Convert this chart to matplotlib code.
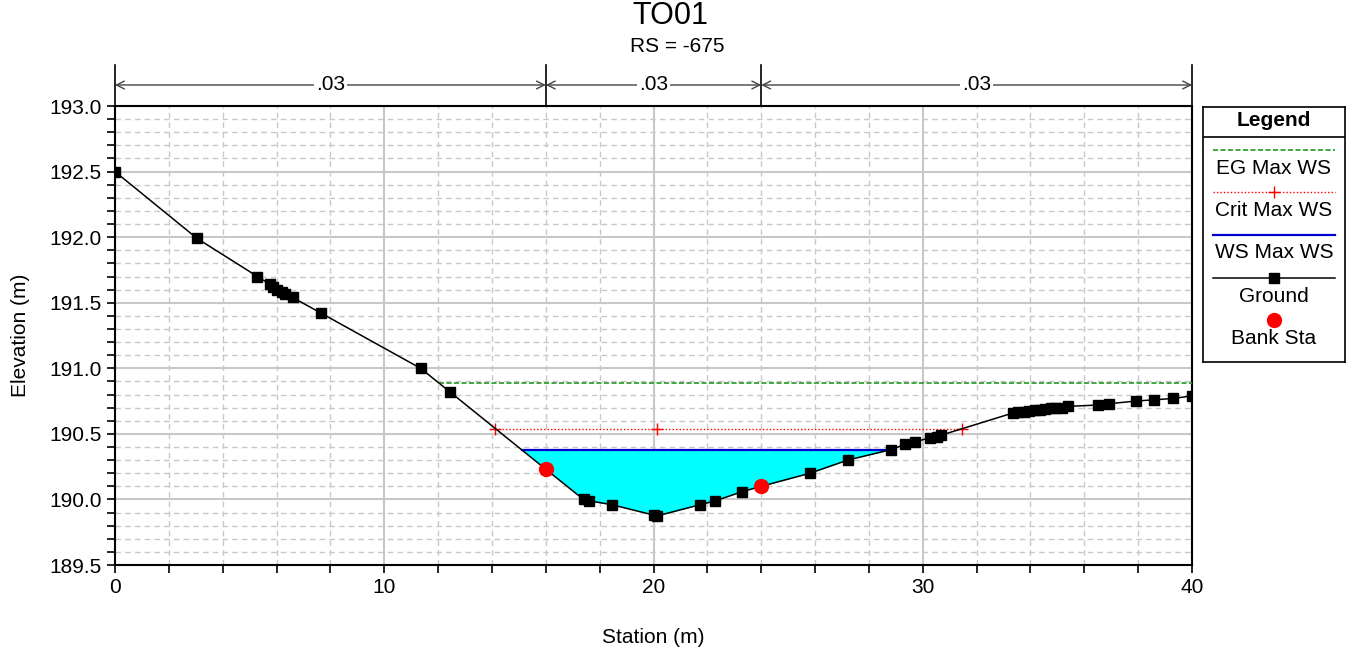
"""
HEC-RAS style cross section TO01 (RS = -675): ground profile, bank stations,
max water surface (filled), critical depth and energy grade lines, plus the
Manning's n bands across the top.

Output: out.png
"""

import matplotlib
matplotlib.use("Agg")
import matplotlib.pyplot as plt
import numpy as np

plt.rcParams["font.family"] = ["Liberation Sans", "DejaVu Sans"]

# ground station / elevation
sta = [0.0, 3.05, 5.29, 5.76, 5.88, 6.02, 6.19, 6.31, 6.60, 7.66, 11.35, 12.44,
       16.0, 17.40, 17.60, 18.45, 20.02, 20.14, 21.73, 22.30, 23.30, 24.0,
       25.81, 27.21, 28.82, 29.34, 29.71, 30.27, 30.52, 30.68, 33.36, 33.55,
       33.75, 33.95, 34.15, 34.35, 34.55, 34.75, 34.91, 35.16, 35.41, 36.52,
       36.92, 37.90, 38.59, 39.31, 40.0]
elev = [192.50, 191.99, 191.70, 191.64, 191.62, 191.60, 191.58, 191.57, 191.54,
        191.42, 191.00, 190.82, 190.23, 190.00, 189.99, 189.96, 189.88, 189.875,
        189.96, 189.99, 190.06, 190.10, 190.20, 190.30, 190.38, 190.42, 190.44,
        190.47, 190.48, 190.49, 190.66, 190.665, 190.67, 190.675, 190.68,
        190.685, 190.69, 190.695, 190.70, 190.70, 190.71, 190.72, 190.73,
        190.75, 190.76, 190.77, 190.79]

bank_sta = [16.0, 24.0]
eg_max = 190.89
crit_max = 190.54
ws_max = 190.375

n_sta = [0, 16, 24, 40]
n_vals = [".03", ".03", ".03"]

title = "TO01"
subtitle = "RS = -675"

GRID = "#c8c8c8"
C_EG = "#1f9a1f"
C_CRIT = "#ff0000"
C_WS = "#0000cc"
C_FILL = "#00ffff"
FS = 15

x = np.array(sta)
y = np.array(elev)


def crossings(level):
    out = []
    for i in range(len(x) - 1):
        y0, y1 = y[i] - level, y[i + 1] - level
        if y0 == 0:
            out.append(x[i])
        elif y0 * y1 < 0:
            out.append(x[i] + (x[i + 1] - x[i]) * y0 / (y0 - y1))
    return out


fig = plt.figure(figsize=(13.56, 6.52), dpi=100)
ax = fig.add_axes([0.0848, 0.1334, 0.7943, 0.7040])

# water surface fill
ax.fill_between(x, y, ws_max, where=y <= ws_max, interpolate=True,
                color=C_FILL, linewidth=0, zorder=2)

# energy grade
eg_x = crossings(eg_max)
ax.plot([eg_x[0], x[-1]], [eg_max, eg_max], color=C_EG, ls=(0, (3, 1.5)),
        lw=1.2, zorder=3)

# critical
cr_x = crossings(crit_max)
ax.plot([cr_x[0], cr_x[-1]], [crit_max] * 2, color=C_CRIT, ls=(0, (1, 1.5)),
        lw=1.0, zorder=3)
ax.plot([cr_x[0], x[np.argmin(y)], cr_x[-1]], [crit_max] * 3, ls="none",
        marker="+", ms=9, mew=1, color=C_CRIT, zorder=3)

# water surface
ws_x = crossings(ws_max)
ax.plot([ws_x[0], ws_x[-1]], [ws_max, ws_max], color=C_WS, lw=1.6, zorder=3)

# ground
ax.plot(x, y, color="black", lw=1.1, marker="s", ms=7, zorder=4)

# bank stations
ax.plot(bank_sta, np.interp(bank_sta, x, y), ls="none", marker="o", ms=10,
        color="#ff0000", zorder=5)

ax.set_xlim(0, 40)
ax.set_ylim(189.5, 193.0)
ax.set_xticks(np.arange(0, 41, 10))
ax.set_xticks(np.arange(0, 41, 2), minor=True)
ax.set_yticks(np.arange(189.5, 193.01, 0.5))
ax.set_yticks(np.arange(189.5, 193.01, 0.1), minor=True)
ax.set_yticklabels([f"{v:.1f}" for v in np.arange(189.5, 193.01, 0.5)])
ax.grid(which="major", color=GRID, lw=1.5, ls="-", zorder=0)
ax.grid(which="minor", color=GRID, lw=1.0, ls=(0, (4, 3)), zorder=0)
ax.set_axisbelow(True)
ax.tick_params(which="both", direction="out", length=6, width=1.2,
               labelsize=FS, color="black")
for s in ax.spines.values():
    s.set_linewidth(1.5)
ax.set_xlabel("Station (m)", fontsize=FS, labelpad=22)
ax.set_ylabel("Elevation (m)", fontsize=FS, labelpad=14)

# Manning's n bands
tr = ax.get_xaxis_transform()
for s_ in n_sta:
    ax.plot([s_, s_], [1.0, 1.089], transform=tr, color="black", lw=1.2,
            clip_on=False)
for a, b, lab in zip(n_sta[:-1], n_sta[1:], n_vals):
    ax.annotate("", xy=(a, 1.0458), xytext=(b, 1.0458), xycoords=tr,
                textcoords=tr, annotation_clip=False,
                arrowprops=dict(arrowstyle="<->", color="#444", lw=1,
                                shrinkA=0, shrinkB=0, mutation_scale=14))
    ax.text((a + b) / 2, 1.0458, lab, transform=tr, ha="center", va="center",
            fontsize=FS, bbox=dict(fc="white", ec="none", pad=1.5))

fig.text(670 / 1356, 1 - 16 / 652, title, ha="center", va="center", fontsize=22)
fig.text(677 / 1356, 1 - 46 / 652, subtitle, ha="center", va="center",
         fontsize=FS)

# legend box (pixel-like coords inside)
lg = fig.add_axes([1203 / 1356, 1 - 362 / 652, 142 / 1356, 255 / 652])
lg.set_xlim(0, 142)
lg.set_ylim(255, 0)
lg.set_xticks([])
lg.set_yticks([])
for s in lg.spines.values():
    s.set_linewidth(1.2)
lg.text(71, 13, "Legend", ha="center", va="center", fontsize=FS,
        fontweight="bold")
lg.plot([0, 142], [29.5, 29.5], color="black", lw=1.2)
lg.plot([10, 132], [43, 43], color=C_EG, ls=(0, (3, 1.5)), lw=1.2)
lg.text(71, 62, "EG Max WS", ha="center", va="center", fontsize=FS)
lg.plot([10, 132], [85, 85], color=C_CRIT, ls=(0, (1, 1.5)), lw=1.0)
lg.plot([71], [85], marker="+", ms=9, mew=1, color=C_CRIT)
lg.text(71, 104, "Crit Max WS", ha="center", va="center", fontsize=FS)
lg.plot([10, 132], [128, 128], color=C_WS, lw=1.6)
lg.text(71, 146, "WS Max WS", ha="center", va="center", fontsize=FS)
lg.plot([10, 132], [171, 171], color="black", lw=1.1)
lg.plot([71], [171], marker="s", ms=7, color="black")
lg.text(71, 189, "Ground", ha="center", va="center", fontsize=FS)
lg.plot([71], [213], marker="o", ms=10, color="#ff0000")
lg.text(71, 231, "Bank Sta", ha="center", va="center", fontsize=FS)

fig.savefig("out.png", dpi=100)
